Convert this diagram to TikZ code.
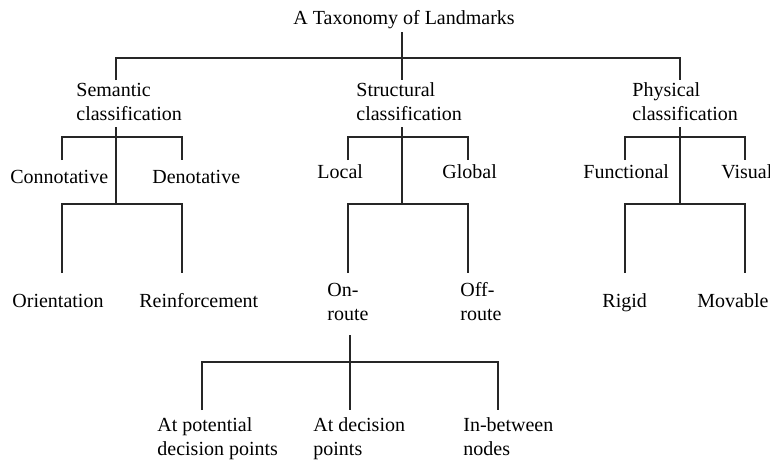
\documentclass[tikz,border=0pt]{standalone}
\usepackage{fontspec}
\setmainfont{Liberation Serif}

\begin{document}
\begin{tikzpicture}[x=0.5pt,y=-0.5pt,
  lbl/.style={anchor=base west,inner sep=0pt,align=left,font=\fontsize{10}{12}\selectfont},
  branch/.style={line width=0.55pt,draw=black!85}]

\useasboundingbox (0,0) rectangle (770,461);

% labels (base = last line)
\node[lbl] (root) at (293,24) {A Taxonomy of Landmarks};

\node[lbl] (sem) at (76,120) {Semantic\\classification};
\node[lbl] (str) at (356,120) {Structural\\classification};
\node[lbl] (phy) at (632,120) {Physical\\classification};

\node[lbl] (con) at (10,183) {Connotative};
\node[lbl] (den) at (152,183) {Denotative};
\node[lbl] (loc) at (317,178) {Local};
\node[lbl] (glo) at (442,178) {Global};
\node[lbl] (fun) at (583,178) {Functional};
\node[lbl] (vis) at (721,178) {Visual};

\node[lbl] (ori) at (12,307) {Orientation};
\node[lbl] (rei) at (139,307) {Reinforcement};
\node[lbl] (onr) at (327,320) {On-\\route};
\node[lbl] (off) at (460,320) {Off-\\route};
\node[lbl] (rig) at (602,307) {Rigid};
\node[lbl] (mov) at (697,307) {Movable};

\node[lbl] (pot) at (157,455) {At potential\\decision points};
\node[lbl] (dec) at (313,455) {At decision\\points};
\node[lbl] (btw) at (463,455) {In-between\\nodes};

% top level
\coordinate (root-a) at (402,32);
\coordinate (root-k) at (402,58);
\coordinate (sem-t) at (116,80);
\coordinate (str-t) at (402,80);
\coordinate (phy-t) at (680,80);
\draw[branch] (root-a) -- (str-t);
\draw[branch] (sem-t) |- (root-k) -| (phy-t);

% semantic
\coordinate (sem-a) at (116,127);
\coordinate (sem-k) at (116,137);
\coordinate (sem-b) at (116,204);
\coordinate (con-a) at (62,160);
\coordinate (den-a) at (182,160);
\coordinate (ori-a) at (62,273);
\coordinate (rei-a) at (182,273);
\draw[branch] (sem-a) -- (sem-b);
\draw[branch] (con-a) |- (sem-k) -| (den-a);
\draw[branch] (ori-a) |- (sem-b) -| (rei-a);

% structural
\coordinate (str-a) at (402,127);
\coordinate (str-k) at (402,137);
\coordinate (str-b) at (402,204);
\coordinate (loc-a) at (348,160);
\coordinate (glo-a) at (468,160);
\coordinate (onr-a) at (348,273);
\coordinate (off-a) at (468,273);
\draw[branch] (str-a) -- (str-b);
\draw[branch] (loc-a) |- (str-k) -| (glo-a);
\draw[branch] (onr-a) |- (str-b) -| (off-a);

% physical
\coordinate (phy-a) at (680,127);
\coordinate (phy-k) at (680,137);
\coordinate (phy-b) at (680,204);
\coordinate (fun-a) at (625,160);
\coordinate (vis-a) at (745,160);
\coordinate (rig-a) at (625,273);
\coordinate (mov-a) at (745,273);
\draw[branch] (phy-a) -- (phy-b);
\draw[branch] (fun-a) |- (phy-k) -| (vis-a);
\draw[branch] (rig-a) |- (phy-b) -| (mov-a);

% on-route
\coordinate (onr-b) at (350,335);
\coordinate (onr-k) at (350,362);
\coordinate (dec-a) at (350,410);
\coordinate (pot-a) at (202,410);
\coordinate (btw-a) at (498,410);
\draw[branch] (onr-b) -- (dec-a);
\draw[branch] (pot-a) |- (onr-k) -| (btw-a);

\end{tikzpicture}
\end{document}
